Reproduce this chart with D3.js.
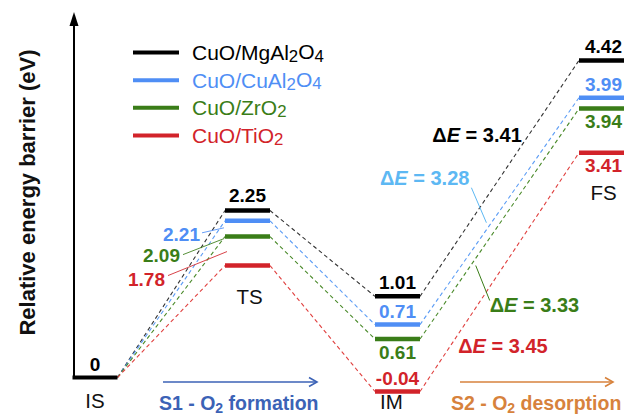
<!DOCTYPE html>
<html>
<head>
<meta charset="utf-8">
<script src="https://cdn.jsdelivr.net/npm/d3@7"></script>
<style>
  html, body { margin: 0; padding: 0; background: #fff; }
  svg { display: block; font-family: "Liberation Sans", Arial, Helvetica, sans-serif; }
</style>
</head>
<body>
<svg id="chart" width="624" height="418"></svg>
<script>
// Reaction stages along the path
const stages = ["IS", "TS", "IM", "FS"];

// Catalyst systems (digits are drawn as subscripts)
const seriesNames = ["CuO/MgAl2O4", "CuO/CuAl2O4", "CuO/ZrO2", "CuO/TiO2"];

// Relative energies (eV) per stage: IS, TS, IM, FS
const energyMgAl2O4 = [0, 2.25, 1.01, 4.42];
const energyCuAl2O4 = [0, 2.21, 0.71, 3.99];
const energyZrO2    = [0, 2.09, 0.61, 3.94];
const energyTiO2    = [0, 1.78, -0.04, 3.41];

// Step labels under the path
const stepLabels = ["S1 - O", "S2 - O"];
const stepSuffix = [" formation", " desorption"];

const energies = [energyMgAl2O4, energyCuAl2O4, energyZrO2, energyTiO2];

const barColor   = ["#000000", "#4f8ef5", "#3a7d18", "#d2232a"];
const dashColor  = ["#333333", "#5b9cf5", "#4a8a2a", "#e0403f"];
const deltaColor = ["#000000", "#5db8f3", "#3a7d18", "#d2232a"];

const svg = d3.select("#chart");
const fmt2 = d3.format(".2f");
const fmt = v => fmt2(v).replace("\u2212", "-");

// Scales
const y = d3.scaleLinear().domain([0, 4.5]).range([377.5, 66.1]);
const x = d3.scaleOrdinal().domain(stages).range([95, 247.5, 397.5, 601.5]);
const halfW = 22.5;
// small vertical dodge so close levels of different systems stay readable
const dodge = i => (i - 1.5) * 7.5;
const levelY = (i, j) => j === 0 ? y(energies[i][0]) : y(energies[i][j]) + dodge(i);

// Render a chemical formula with subscript digits
function formula(sel, str) {
  const parts = str.split(/(\d)/).filter(s => s.length);
  let sub = false;
  parts.forEach(p => {
    const isDigit = /^\d$/.test(p);
    const t = sel.append("tspan").text(p);
    if (isDigit) {
      t.attr("font-size", "80%").attr("dy", sub ? 0 : "0.12em");
      sub = true;
    } else {
      if (sub) t.attr("dy", "-0.12em");
      sub = false;
    }
  });
}

// Y axis arrow
const axisX = 74;
svg.append("line")
  .attr("x1", axisX).attr("x2", axisX)
  .attr("y1", y(0) + 1).attr("y2", 24)
  .attr("stroke", "#000").attr("stroke-width", 2);
svg.append("path")
  .attr("d", `M${axisX},12 L${axisX - 4.5},26 L${axisX + 4.5},26 Z`)
  .attr("fill", "#000");

svg.append("text")
  .attr("transform", `translate(35,192.5) rotate(-90)`)
  .attr("text-anchor", "middle")
  .attr("font-size", 22).attr("font-weight", "bold")
  .attr("fill", "#111")
  .text("Relative energy barrier (eV)");

// Dashed connectors between consecutive stages
energies.forEach((e, i) => {
  for (let j = 0; j < stages.length - 1; j++) {
    svg.append("line")
      .attr("x1", x(stages[j]) + halfW).attr("y1", levelY(i, j))
      .attr("x2", x(stages[j + 1]) - halfW).attr("y2", levelY(i, j + 1))
      .attr("stroke", dashColor[i]).attr("stroke-width", 1.1)
      .attr("stroke-dasharray", "4,3");
  }
});

// Energy level bars
svg.append("line")
  .attr("x1", x("IS") - halfW).attr("x2", x("IS") + halfW)
  .attr("y1", y(0)).attr("y2", y(0))
  .attr("stroke", "#000").attr("stroke-width", 4);
energies.forEach((e, i) => {
  for (let j = 1; j < stages.length; j++) {
    svg.append("line")
      .attr("x1", x(stages[j]) - halfW).attr("x2", x(stages[j]) + halfW)
      .attr("y1", levelY(i, j)).attr("y2", levelY(i, j))
      .attr("stroke", barColor[i]).attr("stroke-width", 4.5);
  }
});

// Value labels
const valueFont = 19;
function valueLabel(txt, cx, baseY, color, anchor) {
  svg.append("text")
    .attr("x", cx).attr("y", baseY)
    .attr("text-anchor", anchor || "middle")
    .attr("font-size", valueFont).attr("font-weight", "bold")
    .attr("fill", color).text(txt);
}
const above = -7, below = 19.5;

valueLabel("0", x("IS"), y(0) + above, "#000");

// TS: top value above, the rest as callouts on the left
valueLabel(fmt(energies[0][1]), x("TS"), levelY(0, 1) + above - 2, barColor[0]);
const tsCallout = [
  null,
  { tx: 200, dy: 20, l1: [202, 12], l2: [224, 7] },
  { tx: 180, dy: 25, l1: [183, 18], l2: [224, 2] },
  { tx: 165, dy: 20, l1: [168, 10], l2: [227, -14] }
];
[1, 2, 3].forEach(i => {
  const c = tsCallout[i], by = levelY(i, 1);
  valueLabel(fmt(energies[i][1]), c.tx, by + c.dy, barColor[i], "end");
  svg.append("line")
    .attr("x1", c.l1[0]).attr("y1", by + c.l1[1])
    .attr("x2", c.l2[0]).attr("y2", by + c.l2[1])
    .attr("stroke", barColor[i]).attr("stroke-width", 1).attr("opacity", 0.85);
});

// IM and FS labels
const imSide = [above, above, below, above];
const fsSide = [above, above, below, below];
energies.forEach((e, i) => {
  valueLabel(fmt(e[2]), x("IM"), levelY(i, 2) + imSide[i], barColor[i]);
  valueLabel(fmt(e[3]), x("FS") + 2, levelY(i, 3) + fsSide[i], barColor[i]);
});

// Stage names
const stageFont = 20.5;
function stageName(txt, cx, by) {
  svg.append("text").attr("x", cx).attr("y", by)
    .attr("text-anchor", "middle").attr("font-size", stageFont)
    .attr("fill", "#111").text(txt);
}
stageName("IS", x("IS"), 408);
stageName("TS", x("TS") + 2, levelY(3, 1) + 38);
stageName("IM", x("IM") - 6, 409);
stageName("FS", x("FS") + 2, levelY(3, 3) + 47);

// Desorption barrier annotations along the IM -> FS segment
function segPoint(i, t) {
  const x1 = x("IM") + halfW, y1 = levelY(i, 2);
  const x2 = x("FS") - halfW, y2 = levelY(i, 3);
  return [x1 + (x2 - x1) * t, y1 + (y2 - y1) * t];
}
function deltaLabel(i, px, py, anchor) {
  const t = svg.append("text").attr("x", px).attr("y", py)
    .attr("text-anchor", anchor).attr("font-size", 20)
    .attr("font-weight", "bold").attr("fill", deltaColor[i]);
  t.append("tspan").text("\u0394");
  t.append("tspan").attr("font-style", "italic").text("E");
  t.append("tspan").text(" = " + fmt(energies[i][3] - energies[i][2]));
}
{
  const p = segPoint(0, 0.684);
  deltaLabel(0, p[0] - 7, p[1] + 7, "end");
}
{
  const p = segPoint(1, 0.449);
  const b = [p[0] - 5, p[1]];
  svg.append("line").attr("x1", b[0]).attr("y1", b[1])
    .attr("x2", b[0] - 15).attr("y2", b[1] - 35)
    .attr("stroke", deltaColor[1]).attr("stroke-width", 1);
  deltaLabel(1, b[0] - 17, b[1] - 38, "end");
}
{
  const p = segPoint(2, 0.319);
  const tp = [p[0] + 5, p[1]];
  svg.append("line").attr("x1", tp[0]).attr("y1", tp[1])
    .attr("x2", tp[0] + 14).attr("y2", tp[1] + 35)
    .attr("stroke", deltaColor[2]).attr("stroke-width", 1);
  deltaLabel(2, tp[0] + 14, tp[1] + 46, "start");
}
{
  const p = segPoint(3, 0.19);
  deltaLabel(3, p[0] + 8, p[1] + 7, "start");
}

// Legend
const legendY = d3.scalePoint().domain(seriesNames).range([52.5, 135.5]);
seriesNames.forEach((name, i) => {
  const ly = legendY(name);
  svg.append("line").attr("x1", 133).attr("x2", 179)
    .attr("y1", ly).attr("y2", ly)
    .attr("stroke", barColor[i]).attr("stroke-width", 4);
  const t = svg.append("text").attr("x", 192).attr("y", ly + 7.5)
    .attr("font-size", 21).attr("fill", barColor[i]);
  formula(t, name);
});

// Step arrows along the bottom
const stepColor = ["#3b62b6", "#d7823c"];
const stepArrow = [[163, 317], [460, 613]];
const stepTextX = [159, 451];
stepArrow.forEach((a, k) => {
  const ay = 382;
  svg.append("line").attr("x1", a[0]).attr("x2", a[1])
    .attr("y1", ay).attr("y2", ay)
    .attr("stroke", stepColor[k]).attr("stroke-width", 1.6);
  svg.append("path")
    .attr("d", `M${a[1] - 8},${ay - 4.5} L${a[1]},${ay} L${a[1] - 8},${ay + 4.5}`)
    .attr("fill", "none").attr("stroke", stepColor[k]).attr("stroke-width", 1.6);
  const t = svg.append("text").attr("x", stepTextX[k]).attr("y", 410)
    .attr("font-size", 19.5).attr("font-weight", "bold").attr("fill", stepColor[k]);
  t.append("tspan").text(stepLabels[k]);
  t.append("tspan").attr("font-size", "72%").attr("dy", "0.2em").text("2");
  t.append("tspan").attr("dy", "-0.14em").text(stepSuffix[k]);
});
</script>
</body>
</html>
